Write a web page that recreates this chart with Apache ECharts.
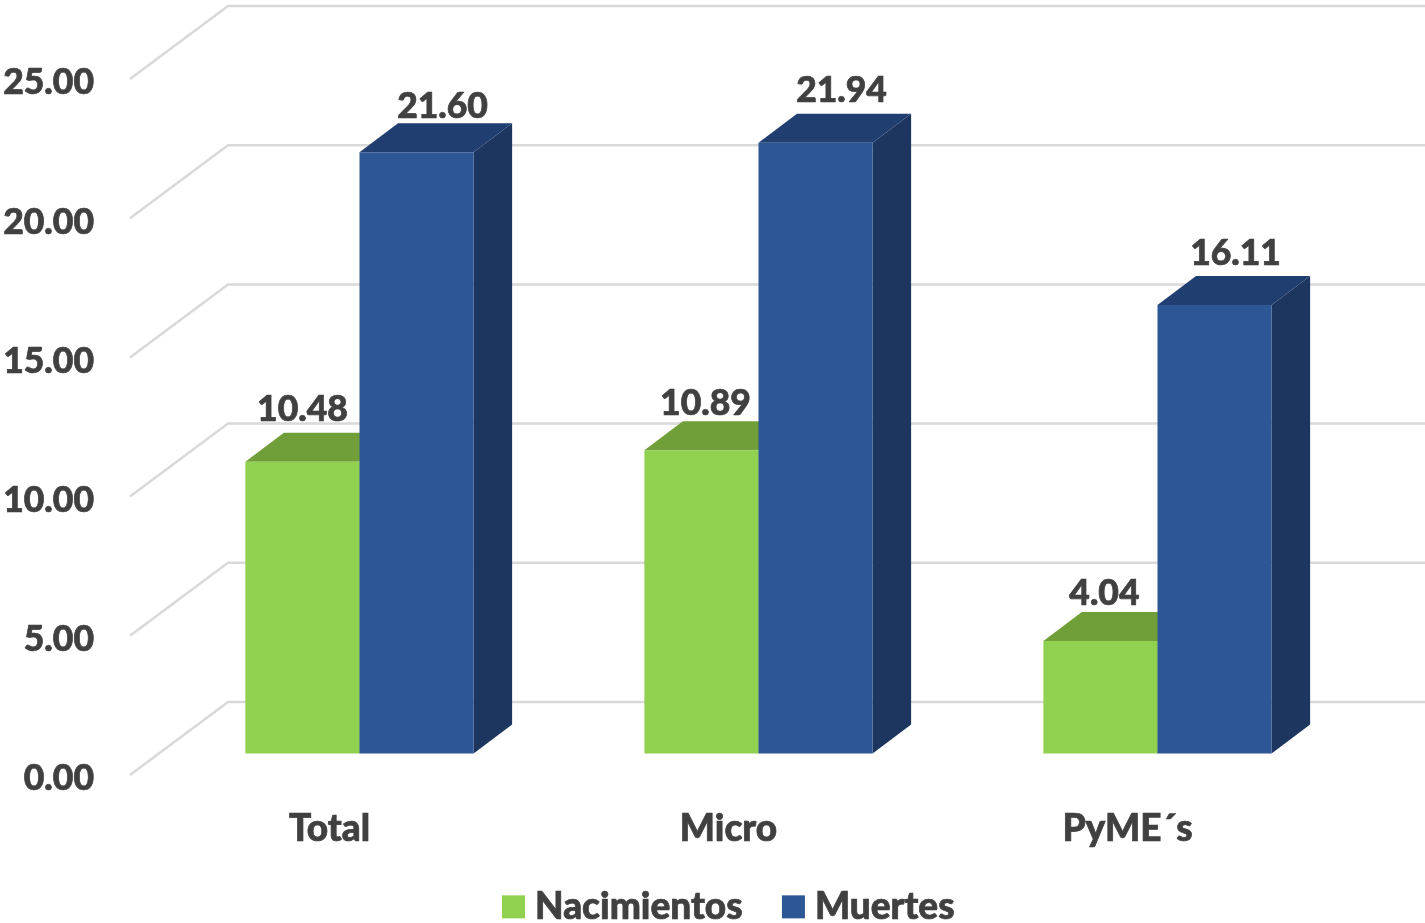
<!DOCTYPE html>
<html>
<head>
<meta charset="utf-8">
<title>Nacimientos y Muertes</title>
<script src="https://cdn.jsdelivr.net/npm/echarts@6/dist/echarts.min.js"></script>
<style>
  html, body { margin: 0; padding: 0; background: #fff; }
  #main { width: 1425px; height: 923px; }
</style>
</head>
<body>
<div id="main"></div>
<script>
const categories = ['Total', 'Micro', 'PyME´s']
const nacimientos = [10.48, 10.89, 4.04]
const muertes = [21.60, 21.94, 16.11]
const yTicks = [0, 5, 10, 15, 20, 25]

const FONT = 'Lato'
const FONT_WEIGHT = 900
const TEXT_COLOR = '#404040'
const TEXT_STROKE = 0.7
const GREEN = {front: '#90D14F', top: '#709E38', side: '#5F8A2E'}
const BLUE = {front: '#2C5694', top: '#213E70', side: '#1D365F'}

// oblique depth of the floor, bars sit 30% of the way into it
const WALL_DX = 98
const WALL_DY = -73
const BAR_DX = 38.5
const BAR_DY = -29
const BAR_SHIFT_X = 30
const BAR_SHIFT_Y = -21.5
const BAR_WIDTH_RATIO = 0.286

// hand placed nudges of the value labels, same as the source chart
const labelNudge = {
  Nacimientos: [[0, -52], [4, -47], [4, -47]],
  Muertes: [[26, -46], [26, -52], [21, -51]]
}

function renderWall(params, api) {
  const cs = params.coordSys
  const y = api.coord([0, api.value(1)])[1]
  return {
    type: 'polyline',
    silent: true,
    shape: {
      points: [
        [cs.x, y],
        [cs.x + WALL_DX, y + WALL_DY],
        [cs.x + cs.width + WALL_DX, y + WALL_DY]
      ]
    },
    style: {fill: null, stroke: '#D9D9D9', lineWidth: 2.5}
  }
}

function makeBarRenderer(colors, side, name) {
  return function (params, api) {
    const i = api.value(0)
    const v = api.value(1)
    const band = api.size([1, 0])[0]
    const w = band * BAR_WIDTH_RATIO
    const top = api.coord([i, v])
    const bottom = api.coord([i, 0])
    const xl = top[0] + BAR_SHIFT_X + (side < 0 ? -w : 0)
    const xr = xl + w
    const yt = top[1] + BAR_SHIFT_Y
    const yb = bottom[1] + BAR_SHIFT_Y
    const nudge = labelNudge[name][i]
    return {
      type: 'group',
      children: [
        {
          type: 'polygon',
          shape: {points: [[xr, yb], [xr + BAR_DX, yb + BAR_DY], [xr + BAR_DX, yt + BAR_DY], [xr, yt]]},
          style: {fill: colors.side}
        },
        {
          type: 'polygon',
          shape: {points: [[xl, yt], [xl + BAR_DX, yt + BAR_DY], [xr + BAR_DX, yt + BAR_DY], [xr, yt]]},
          style: {fill: colors.top}
        },
        {
          type: 'rect',
          shape: {x: xl, y: yt, width: w, height: yb - yt},
          style: {fill: colors.front}
        },
        {
          type: 'text',
          z2: 10,
          style: {
            x: xl + w / 2 + nudge[0],
            y: yt + nudge[1],
            text: v.toFixed(2),
            align: 'center',
            verticalAlign: 'middle',
            fill: TEXT_COLOR,
            stroke: TEXT_COLOR,
            lineWidth: TEXT_STROKE,
            font: FONT_WEIGHT + ' 35.5px ' + FONT
          }
        }
      ]
    }
  }
}

const chart = echarts.init(document.getElementById('main'))
chart.setOption({
  animation: false,
  backgroundColor: '#ffffff',
  grid: {left: 130, right: 98, top: 79, bottom: 148, outerBoundsMode: 'none'},
  legend: {
    data: [
      {name: 'Nacimientos', icon: 'rect'},
      {name: 'Muertes', icon: 'rect'}
    ],
    left: 497,
    top: 883,
    itemWidth: 23,
    itemHeight: 23,
    itemGap: 39,
    selectedMode: false,
    textStyle: {
      fontFamily: FONT,
      fontWeight: FONT_WEIGHT,
      fontSize: 37,
      color: TEXT_COLOR,
      textBorderColor: TEXT_COLOR,
      textBorderWidth: TEXT_STROKE,
      padding: [0, 0, 0, 5]
    }
  },
  xAxis: {
    type: 'category',
    data: categories,
    axisLine: {show: false},
    axisTick: {show: false},
    axisLabel: {
      margin: 36,
      fontFamily: FONT,
      fontWeight: FONT_WEIGHT,
      fontSize: 37,
      color: TEXT_COLOR,
      textBorderColor: TEXT_COLOR,
      textBorderWidth: TEXT_STROKE
    }
  },
  yAxis: {
    type: 'value',
    min: 0,
    max: yTicks[yTicks.length - 1],
    interval: 5,
    axisLine: {show: false},
    axisTick: {show: false},
    splitLine: {show: false},
    axisLabel: {
      margin: 36,
      verticalAlign: 'top',
      lineHeight: 8,
      formatter: (val) => val.toFixed(2),
      fontFamily: FONT,
      fontWeight: FONT_WEIGHT,
      fontSize: 35.5,
      color: TEXT_COLOR,
      textBorderColor: TEXT_COLOR,
      textBorderWidth: TEXT_STROKE
    }
  },
  series: [
    {
      type: 'custom',
      name: 'wall',
      z: 1,
      silent: true,
      renderItem: renderWall,
      data: yTicks.map(v => [0, v]),
      encode: {x: 0, y: 1}
    },
    {
      type: 'custom',
      name: 'Nacimientos',
      z: 2,
      itemStyle: {color: GREEN.front},
      renderItem: makeBarRenderer(GREEN, -1, 'Nacimientos'),
      data: nacimientos.map((v, i) => [i, v]),
      encode: {x: 0, y: 1}
    },
    {
      type: 'custom',
      name: 'Muertes',
      z: 3,
      itemStyle: {color: BLUE.front},
      renderItem: makeBarRenderer(BLUE, 1, 'Muertes'),
      data: muertes.map((v, i) => [i, v]),
      encode: {x: 0, y: 1}
    }
  ]
})
</script>
</body>
</html>
